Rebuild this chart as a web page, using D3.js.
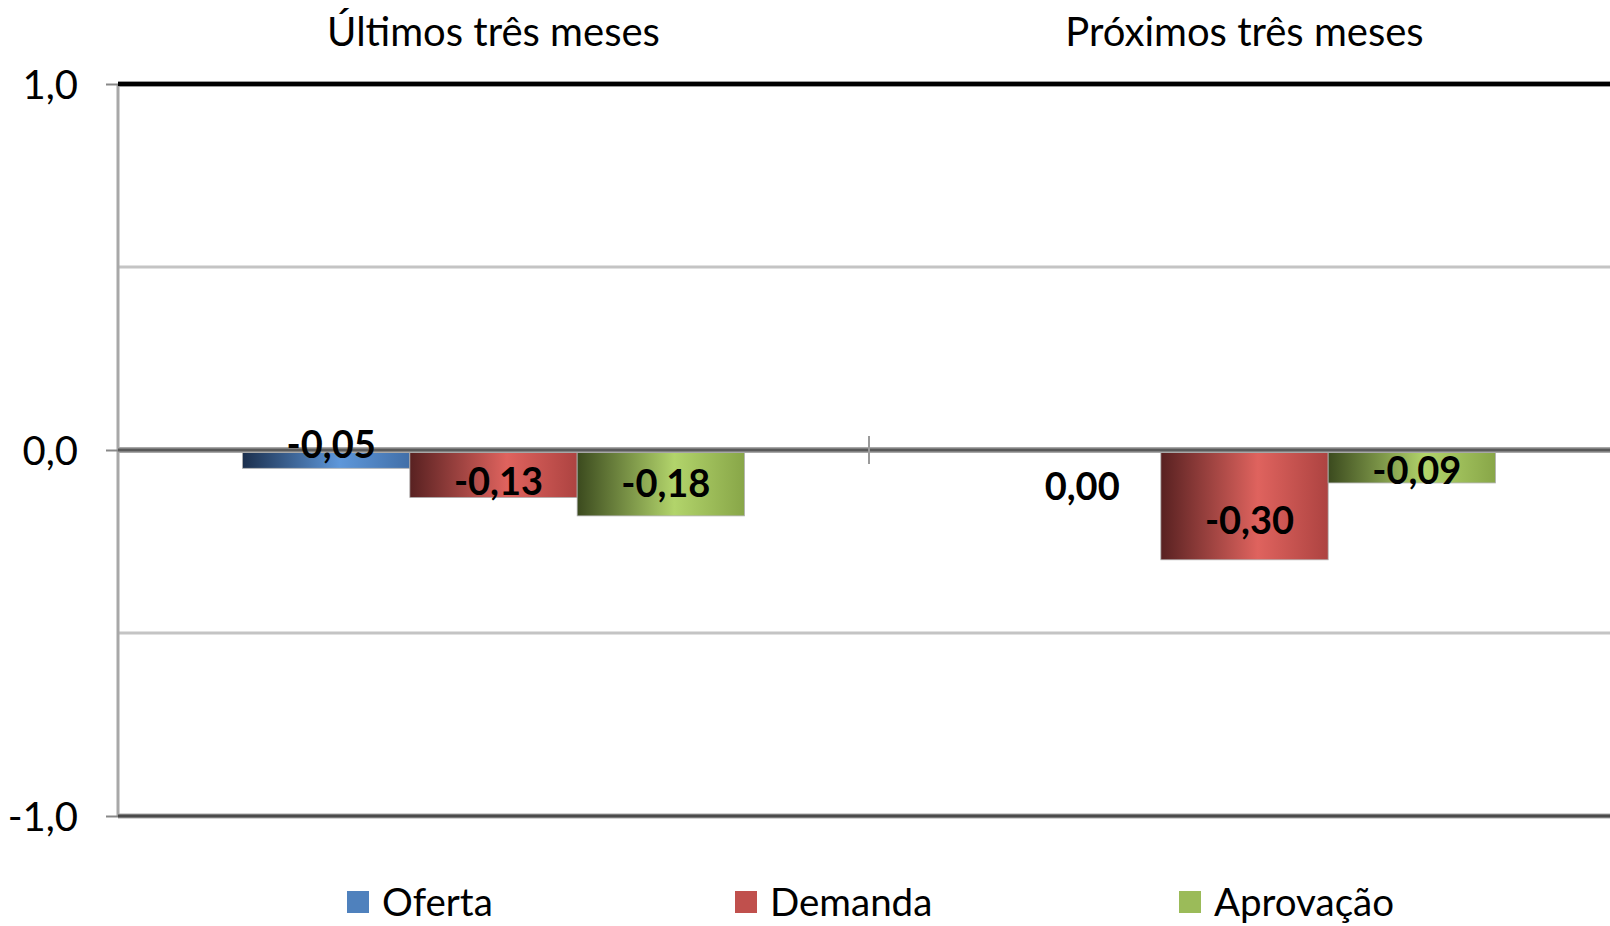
<!DOCTYPE html>
<html><head><meta charset="utf-8">
<script src="https://cdn.jsdelivr.net/npm/d3@7"></script>
<style>body{margin:0;background:#fff}svg{display:block}</style>
</head><body>
<svg id="chart" width="1610" height="926"></svg>
<script>
const categories = ["Últimos três meses", "Próximos três meses"];
const series = ["Oferta", "Demanda", "Aprovação"];
const oferta = [-0.05, 0.00];
const demanda = [-0.13, -0.30];
const aprovacao = [-0.18, -0.09];
const yTicks = [1, 0, -1];
const yGrid = [0.5, -0.5];
const values = [oferta, demanda, aprovacao];

(function () {
const svg = d3.select("#chart");
const W = 1610, H = 926;
const mLeft = 118, mTop = 84, mBottom = 816;
const font = "Lato, 'Open Sans', sans-serif";
const fmt = v => d3.format(".2f")(v).replace(".", ",").replace("\u2212", "-");
const fmtTick = v => d3.format(".1f")(v).replace(".", ",").replace("\u2212", "-");

const y = d3.scaleLinear().domain([-1, 1]).range([mBottom, mTop]);
const x0 = d3.scaleBand().domain(categories).range([mLeft, mLeft + 2 * 751]).padding(0);
const bw = x0.bandwidth();
const x1 = d3.scaleBand().domain(series).range([bw * 0.1658, bw * (1 - 0.1658)]).padding(0);

const grads = [
  ["#1b2f4d", "#5e97da", "#416fa8"],
  ["#582121", "#df635e", "#ad4341"],
  ["#3b4a1e", "#b2d46b", "#88a648"]
];
const legendColors = ["#4f81bd", "#c0504d", "#9bbb59"];
const defs = svg.append("defs");
grads.forEach((g, i) => {
  const lg = defs.append("linearGradient").attr("id", "g" + i).attr("x1", 0).attr("x2", 1).attr("y1", 0).attr("y2", 0);
  lg.append("stop").attr("offset", 0).attr("stop-color", g[0]);
  lg.append("stop").attr("offset", 0.58).attr("stop-color", g[1]);
  lg.append("stop").attr("offset", 1).attr("stop-color", g[2]);
});

svg.selectAll(".grid").data(yGrid).join("line")
  .attr("x1", mLeft).attr("x2", W).attr("y1", d => y(d)).attr("y2", d => y(d))
  .attr("stroke", "#c4c4c4").attr("stroke-width", 3);

svg.append("line").attr("x1", mLeft).attr("x2", mLeft).attr("y1", y(1)).attr("y2", y(-1))
  .attr("stroke", "#a8a8a8").attr("stroke-width", 3);

const barData = [];
series.forEach((s, si) => categories.forEach((c, ci) => barData.push({s, si, c, ci, v: values[si][ci]})));
svg.selectAll(".bar").data(barData.filter(d => d.v !== 0)).join("rect")
  .attr("x", d => x0(d.c) + x1(d.s))
  .attr("width", x1.bandwidth())
  .attr("y", d => y(Math.max(0, d.v)))
  .attr("height", d => Math.abs(y(d.v) - y(0)))
  .attr("fill", d => `url(#g${d.si})`)
  .attr("stroke", "#b0b0b0").attr("stroke-width", 0.8);

function hline(v, outer, inner, wo, wi) {
  svg.append("line").attr("x1", mLeft).attr("x2", W).attr("y1", y(v)).attr("y2", y(v)).attr("stroke", outer).attr("stroke-width", wo);
  svg.append("line").attr("x1", mLeft).attr("x2", W).attr("y1", y(v)).attr("y2", y(v)).attr("stroke", inner).attr("stroke-width", wi);
}
hline(1, "#9a9a9a", "#000", 6, 4);
hline(0, "#a8a8a8", "#5a5a5a", 6, 3);
hline(-1, "#a8a8a8", "#4a4a4a", 5, 3);

const yAxis = d3.axisLeft(y).tickValues(yTicks).tickSize(12).tickFormat(fmtTick);
const ya = svg.append("g").attr("transform", `translate(${mLeft},0)`).call(yAxis);
ya.select(".domain").remove();
ya.selectAll(".tick line").attr("stroke", "#888").attr("stroke-width", 2);
ya.selectAll(".tick text").attr("font-family", font).attr("font-size", 40).attr("fill", "#000")
  .attr("x", -40).attr("dy", "0.36em");

svg.append("line").attr("x1", x0(categories[1])).attr("x2", x0(categories[1]))
  .attr("y1", y(0) - 14).attr("y2", y(0) + 14).attr("stroke", "#9a9a9a").attr("stroke-width", 2);

svg.selectAll(".title").data(categories).join("text")
  .attr("x", d => x0(d) + bw / 2).attr("y", 46)
  .attr("text-anchor", "middle").attr("font-family", font).attr("font-size", 40).attr("fill", "#000")
  .text(d => d);

const labelShift = {"0-0": -15, "1-0": 8, "2-0": 0, "0-1": 36, "1-1": 15, "2-1": 4};
svg.selectAll(".lbl").data(barData).join("text")
  .attr("x", d => x0(d.c) + x1(d.s) + x1.bandwidth() / 2 + 5)
  .attr("y", d => (y(0) + y(d.v)) / 2 + labelShift[d.si + "-" + d.ci])
  .attr("dy", "0.36em")
  .attr("text-anchor", "middle").attr("font-family", font).attr("font-weight", "bold")
  .attr("font-size", 38).attr("fill", "#000")
  .text(d => fmt(d.v));

const legX = [347, 735, 1179];
const lg = svg.selectAll(".leg").data(series).join("g")
  .attr("transform", (d, i) => `translate(${legX[i]},891)`);
lg.append("rect").attr("width", 22).attr("height", 22).attr("fill", (d, i) => legendColors[i]);
lg.append("text").attr("x", 35).attr("y", 11).attr("dy", "0.36em")
  .attr("font-family", font).attr("font-size", 38.5).attr("fill", "#000").text(d => d);
})();
</script>
</body></html>
